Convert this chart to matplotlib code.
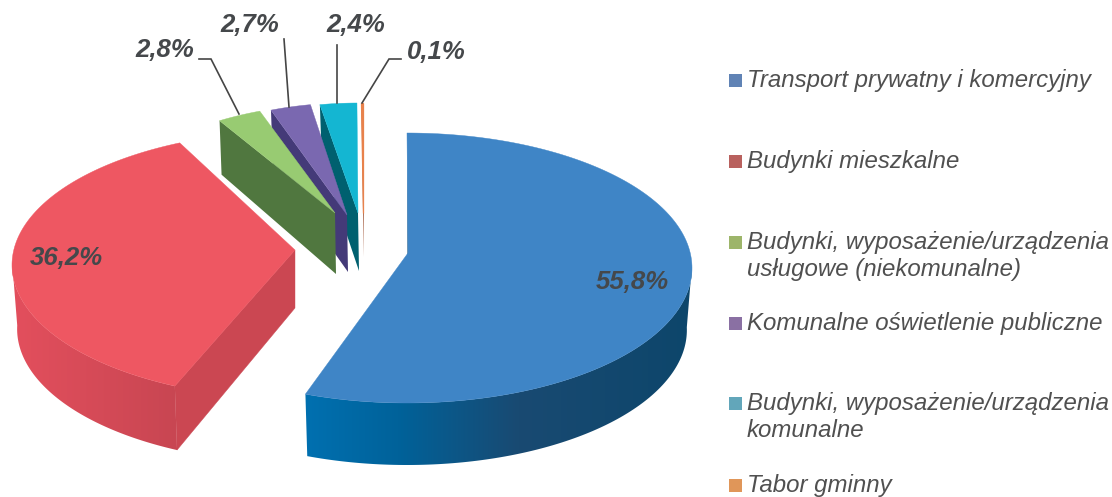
import numpy as np
import matplotlib
matplotlib.use("Agg")
import matplotlib.pyplot as plt
from matplotlib.colors import LinearSegmentedColormap
from matplotlib.patches import Polygon, Rectangle

plt.rcParams['font.family'] = ['Liberation Sans', 'DejaVu Sans']

# --- data ---
categories = [["Transport prywatny i komercyjny"], ["Budynki mieszkalne"],
              ["Budynki, wyposażenie/urządzenia", "usługowe (niekomunalne)"],
              ["Komunalne oświetlenie publiczne"],
              ["Budynki, wyposażenie/urządzenia", "komunalne"], ["Tabor gminny"]]
shares = [55.8, 36.2, 2.8, 2.7, 2.4, 0.1]
value_labels = ["55,8%", "36,2%", "2,8%", "2,7%", "2,4%", "0,1%"]

# --- styles / layout (pixel space of the figure) ---
legend_colors = ["#6083B5", "#B9615E", "#9DB56A", "#8A70A3", "#62A6BA", "#E09659"]
top_colors = ["#3F85C6", "#EE5762", "#98CB72", "#7A68B0", "#14B6D2", "#E8824C"]
wall_colors = ["#0E4A70", "#CB4752", "#50773F", "#443A78", "#00606F", "#9A4A2A"]
geom = [  # cx, cy, rx, ry, tipx, tipy, rot, depth_rim, depth_tip
    (407, 268, 285, 135, 408, 253, 0.0, 62, 63),
    (297, 265, 285, 134, 295, 250, 4.5, 64, 58),
    (340, 239, 250, 135, 335, 213, 0.0, 54, 61),
    (348, 238, 240, 135, 347, 215, 0.0, 56, 57),
    (358.5, 238, 247, 135, 358, 213, 0.0, 56, 58),
    (363, 238, 250, 135, 363, 213, 0.0, 40, 44),
]
legend_y = [80, 161, 242, 323, 403, 485]
legend_line_gap = 27
label_xy = [(632.5, 282), (66.5, 258), (164.5, 50), (250, 25), (356, 25), (436, 52)]
leaders = [None, None,
           [(199, 59), (211, 59), (239, 114)],
           [(284, 39), (289, 107)],
           [(337, 45), (337, 103)],
           [(401, 59), (389, 59), (362, 103)]]
blue_cmap = LinearSegmentedColormap.from_list("b", [(0, "#0070B0"), (0.24, "#00629A"),
                                                    (0.55, "#194A72"), (1, "#0D466B")])
red_cmap = LinearSegmentedColormap.from_list("r", ["#E34F5D", "#C84652"])

fig = plt.figure(figsize=(11.12, 4.97), dpi=100)
ax = fig.add_axes([0, 0, 1, 1])
ax.axis("off")


def rim(g, t_deg, lower=False):
    cx, cy, rx, ry, _, _, rot, d_rim, _ = g
    t = np.radians(np.asarray(t_deg) + rot)
    scale = 0.982 if lower else 1.0
    dy = d_rim if lower else 0
    return cx + scale * rx * np.sin(t), cy - ry * np.cos(t) + dy


def gradient_wall(x, y, xl, yl, cmap, z):
    """Outer wall of a slice: horizontal gradient clipped to the wall outline."""
    pts = np.vstack([np.column_stack([x, y]), np.column_stack([xl, yl])[::-1]])
    x0, x1 = pts[:, 0].min(), pts[:, 0].max()
    y0, y1 = pts[:, 1].min(), pts[:, 1].max()
    im = ax.imshow(np.linspace(0, 1, 256)[None, :], cmap=cmap, extent=(x0, x1, y1, y0),
                   aspect="auto", zorder=z, interpolation="bilinear")
    clip = Polygon(pts, closed=True, transform=ax.transData, fc="none", ec="none")
    ax.add_patch(clip)
    im.set_clip_path(clip)


edges = 360.0 * np.concatenate([[0], np.cumsum(shares)]) / np.sum(shares)
for i in [5, 4, 3, 2, 1, 0]:
    g = geom[i]
    tipx, tipy, d_tip = g[4], g[5], g[8]
    ts = np.linspace(edges[i], edges[i + 1], 200)
    x, y = rim(g, ts)
    xl, yl = rim(g, ts, lower=True)
    z = 20 + (6 - i)

    if i == 0:
        ax.add_patch(Polygon([(x[0], y[0]), (tipx, tipy), (tipx, tipy + d_tip), (x[0], yl[0])],
                             closed=True, fc="#0B4468", ec="none", zorder=z))
        keep = (ts + g[6]) >= 88
        gradient_wall(x[keep], y[keep], xl[keep], yl[keep], blue_cmap, z)
    elif i == 1:
        keep = (ts + g[6]) <= 272
        gradient_wall(x[keep], y[keep], xl[keep], yl[keep], red_cmap, z)
        ax.add_patch(Polygon([(x[0], y[0]), (tipx, tipy), (tipx, tipy + d_tip), (xl[0], yl[0])],
                             closed=True, fc=wall_colors[i], ec=wall_colors[i], lw=0.3, zorder=z + 0.2))
    else:
        ax.add_patch(Polygon([(x[0], y[0]), (tipx, tipy),
                              (tipx + 1, tipy + d_tip), (x[0] + 2, y[0] + g[7])],
                             closed=True, fc=wall_colors[i], ec="none", zorder=z))

    pts = np.vstack([np.column_stack([x, y]), [(tipx, tipy)]])
    lw = 0.9 if i == 5 else 0.3
    ax.add_patch(Polygon(pts, closed=True, fc=top_colors[i], ec=top_colors[i], lw=lw, zorder=z + 0.5))

# value labels and leader lines
for lab, (lx, ly), lead in zip(value_labels, label_xy, leaders):
    ax.text(lx, ly, lab, ha="center", va="center", fontsize=18.5, fontweight="bold",
            fontstyle="italic", color="#45484B", zorder=40)
    if lead is not None:
        ax.plot([p[0] for p in lead], [p[1] for p in lead], color="#454545", lw=1.2,
                solid_joinstyle="miter", zorder=39)

# legend
for lines, c, ly in zip(categories, legend_colors, legend_y):
    ax.add_patch(Rectangle((729, ly - 6), 13, 13, fc=c, ec="none", zorder=30))
    for k, line in enumerate(lines):
        ax.text(747, ly + 7 + k * legend_line_gap, line, ha="left", va="baseline", fontsize=17.25,
                fontstyle="italic", color="#505050", zorder=30)

ax.set_xlim(0, 1112)
ax.set_ylim(497, 0)
fig.savefig("out.png", dpi=100, facecolor="white")
